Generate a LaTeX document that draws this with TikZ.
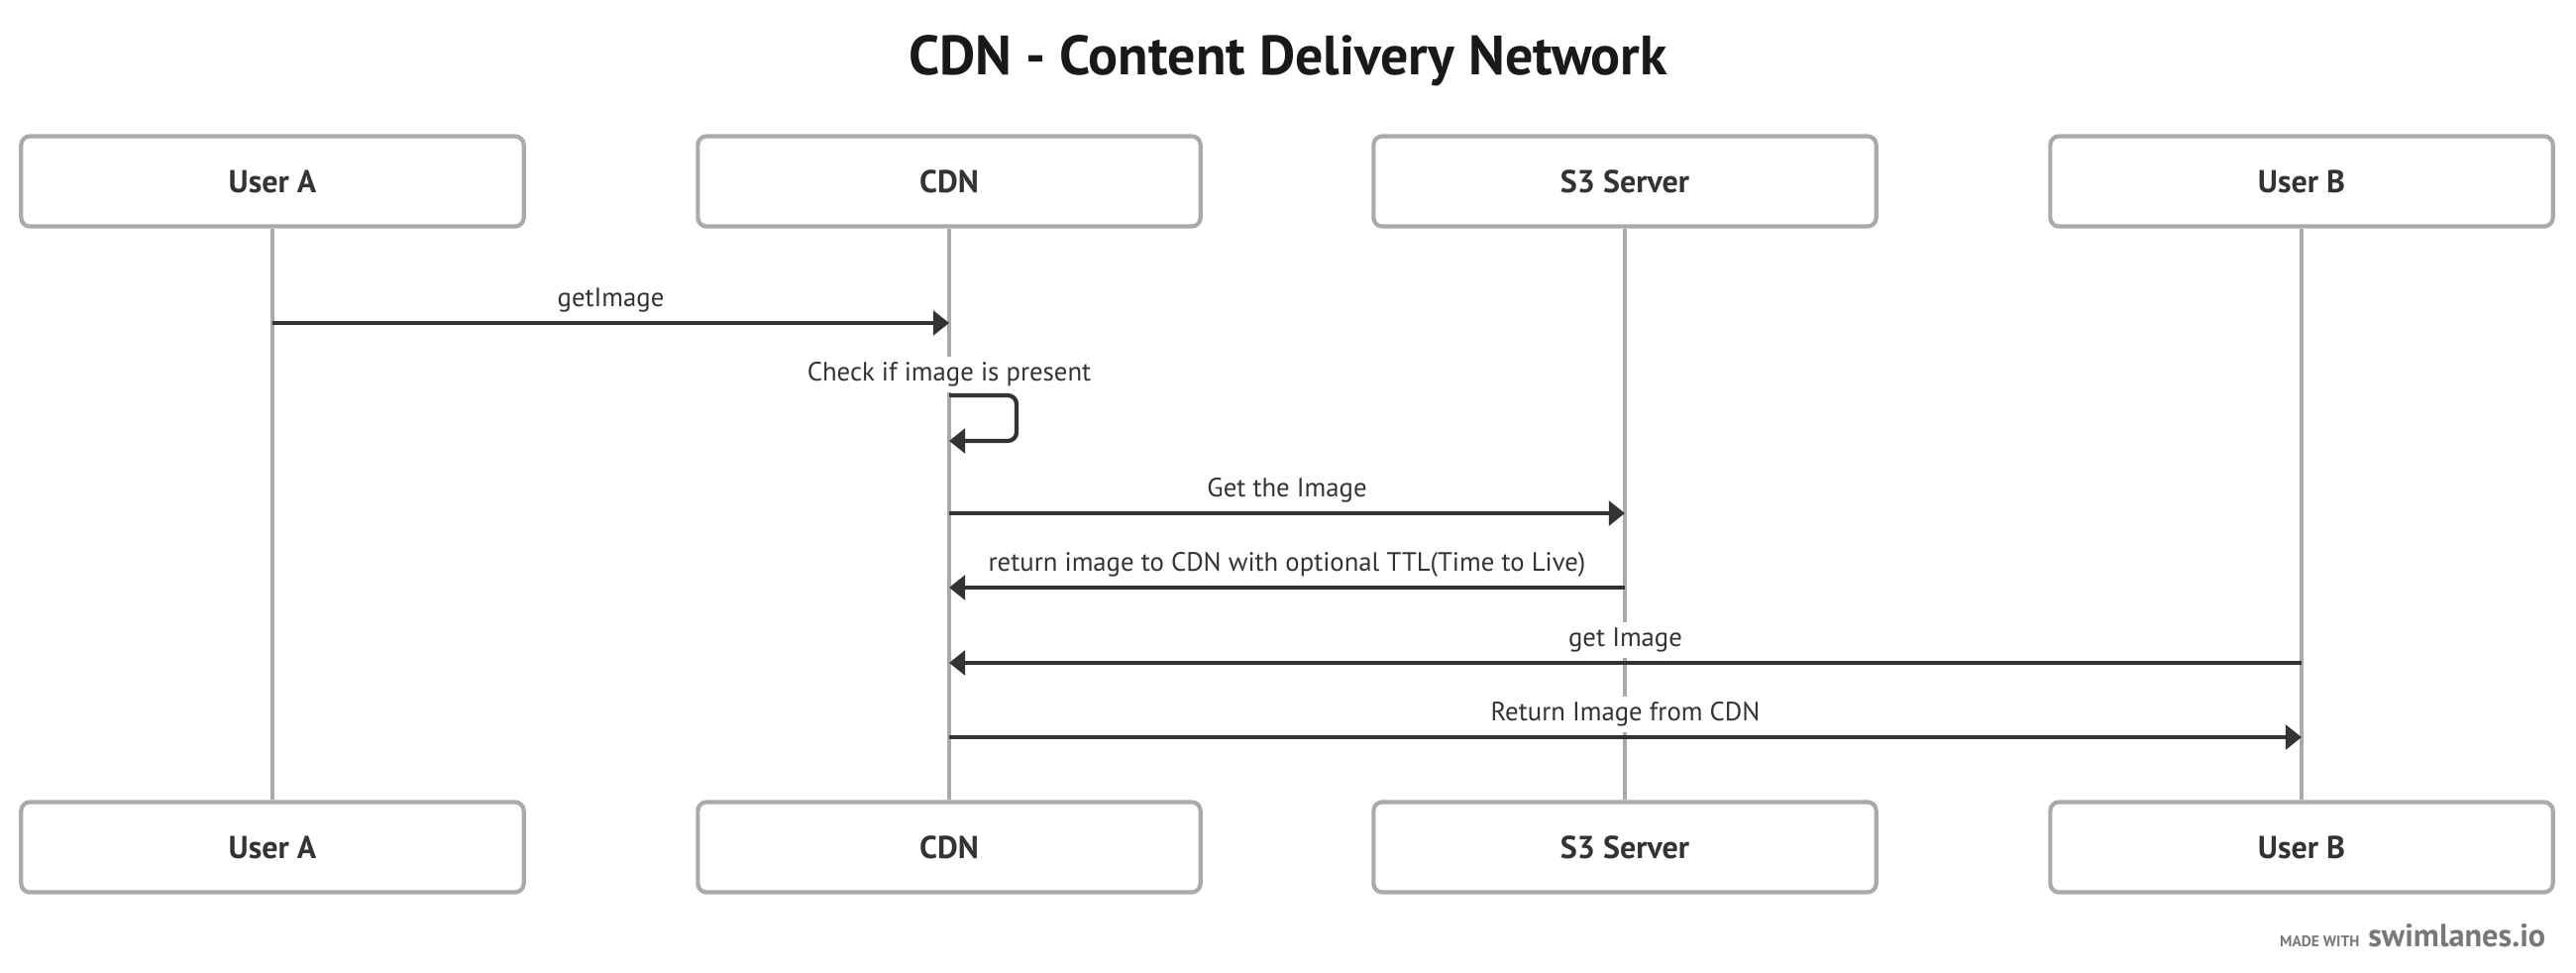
\documentclass[tikz,border=0pt]{standalone}
\usepackage{fontspec}
\setmainfont{PT Sans}
\usetikzlibrary{arrows.meta}
\definecolor{LaneGray}{RGB}{170,170,170}
\definecolor{MsgDark}{RGB}{51,51,51}
\definecolor{MarkGray}{RGB}{120,120,120}

\begin{document}
\begin{tikzpicture}[x=0.01cm,y=-0.01cm,
  actor/.style={draw=LaneGray,line width=1.2pt,rounded corners=2.5pt,fill=white,minimum width=5.07cm,minimum height=0.91cm,font=\fontsize{9.1}{10}\selectfont\bfseries,text=MsgDark},
  lifeline/.style={draw=LaneGray,line width=1.1pt},
  msg/.style={draw=MsgDark,line width=1.2pt,-{Triangle[length=4.6pt,width=7pt]}},
  lbl/.style={fill=white,inner sep=1.6pt,font=\fontsize{7.6}{9}\selectfont,text=MsgDark}]
\useasboundingbox (0,0) rectangle (2600,982);
\node[font=\fontsize{15.9}{18}\selectfont\bfseries,text=black!90] (title) at (1300,61) {CDN - Content Delivery Network};
\foreach \n/\x/\t in {ua/275/User A,cdn/958/CDN,s3/1640/S3 Server,ub/2323/User B} {
   \node[actor] (\n top) at (\x,183) {\t};
   \node[actor] (\n bot) at (\x,855) {\t};
   \draw[lifeline] (\n top) -- (\n bot);
}
% messages
\draw[msg] (uatop |- 0,326) -- (cdntop |- 0,326) node[lbl,midway,above=0.9pt] {getImage};
\node[lbl] (chk) at (cdntop |- 0,378) {Check if image is present};
\coordinate (loopend) at (1026,445);
\draw[msg,rounded corners=2.5pt] (cdntop |- 0,399) -| (loopend) -- (cdntop |- 0,445);
\draw[msg] (cdntop |- 0,518) -- (s3top |- 0,518) node[lbl,midway,above=0.9pt] {Get the Image};
\draw[msg] (s3top |- 0,593) -- (cdntop |- 0,593) node[lbl,midway,above=0.9pt] {return image to CDN with optional TTL(Time to Live)};
\draw[msg] (ubtop |- 0,669) -- (cdntop |- 0,669) node[lbl,midway,above=0.9pt] {get Image};
\draw[msg] (cdntop |- 0,744) -- (ubtop |- 0,744) node[lbl,midway,above=0.9pt] {Return Image from CDN};
% watermark
\node[anchor=base east,inner sep=0pt,text=MarkGray] (mark) at (2570,955)
   {{\fontsize{4.4}{5}\selectfont\bfseries MADE WITH}\hspace{2.5pt}{\fontsize{9.2}{10}\selectfont\bfseries swimlanes.io}};
\end{tikzpicture}
\end{document}
